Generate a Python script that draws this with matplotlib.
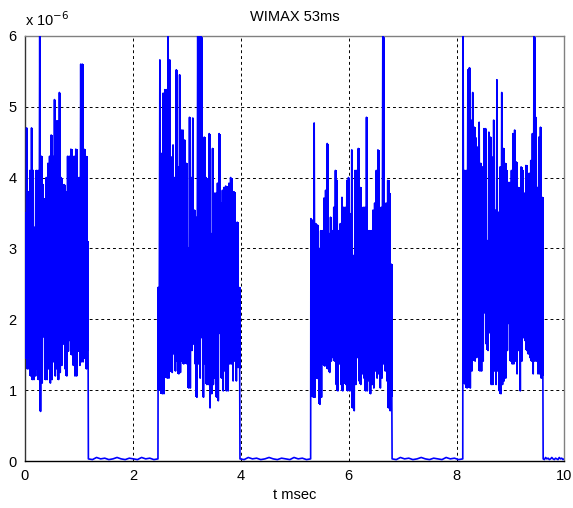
import numpy as np
import matplotlib
matplotlib.use("Agg")
import matplotlib.pyplot as plt

plt.rcParams['font.family'] = ['Liberation Sans', 'DejaVu Sans']
plt.rcParams['path.simplify'] = False

# burst edges (msec)
burst_start = [0.0, 2.47, 5.30, 8.12]
burst_end = [1.17, 3.98, 6.80, 9.60]

# envelope peaks / troughs, in units of 1e-6
b1_high = [3.5, 4.7, 3.8, 4.1, 4.7, 4.1, 3.3, 4.1, 4.1, 6.2, 4.3, 3.9, 3.7, 4.0, 4.2,
           4.3, 4.6, 4.3, 5.1, 4.8, 4.8, 5.2, 4.0, 3.9, 3.9, 3.8, 4.3, 4.3, 4.4, 3.9,
           4.3, 4.4, 4.0, 4.0, 5.6, 5.6, 4.4, 4.3, 3.1]
b1_low = [1.45, 1.3, 1.3, 1.2, 1.15, 1.15, 1.2, 1.3, 1.15, 0.7, 1.1, 1.75, 1.15, 1.15, 1.3,
          1.1, 1.15, 1.4, 1.2, 1.3, 1.15, 1.25, 1.35, 1.65, 1.3, 1.2, 1.55, 1.7, 1.5, 1.35,
          1.2, 1.2, 1.55, 1.35, 1.4, 1.4, 1.45, 1.3, 1.55]

b2_high = [2.45, 5.66, 4.34, 5.19, 5.24, 5.24, 6.2, 5.66, 4.29, 4.46, 4.0, 5.52, 4.15, 5.45,
           4.67, 4.67, 4.53, 4.2, 3.01, 4.85, 4.0, 4.84, 3.54, 3.44, 6.2, 6.2, 6.2, 3.92,
           4.57, 4.0, 3.96, 4.62, 3.21, 4.41, 3.78, 3.78, 3.92, 4.62, 3.64, 3.82, 3.86,
           3.88, 3.59, 3.92, 4.0, 3.64, 3.8, 3.21, 3.37, 2.45]
b2_low = [1.0, 0.99, 0.95, 0.95, 1.80, 1.17, 1.17, 1.39, 1.25, 1.51, 1.27, 1.41, 1.23, 1.25,
          1.41, 1.37, 1.60, 1.37, 1.03, 1.03, 1.56, 1.65, 1.37, 0.90, 1.37, 1.17, 1.74, 0.90,
          1.37, 1.08, 1.08, 0.75, 0.95, 1.08, 1.17, 0.90, 0.85, 1.80, 1.17, 0.99, 1.27,
          0.99, 0.99, 1.37, 1.37, 1.13, 1.41, 1.13, 1.32, 1.3]

b3_high = [3.42, 3.40, 4.77, 3.35, 3.33, 3.0, 3.25, 3.25, 3.71, 3.82, 4.48, 3.21, 3.44, 3.25,
           3.58, 4.1, 3.96, 3.25, 3.35, 3.72, 3.58, 3.58, 3.96, 4.0, 3.49, 4.39, 2.9, 4.1,
           4.1, 4.41, 3.86, 3.25, 3.58, 3.58, 4.85, 3.25, 3.25, 3.25, 3.54, 3.64, 4.1,
           4.39, 2.88, 3.58, 6.2, 3.44, 3.64, 3.96, 3.78, 2.78]
b3_low = [0.92, 0.90, 0.90, 1.17, 1.16, 0.80, 0.90, 1.37, 1.34, 1.37, 1.30, 1.25, 1.41, 1.46,
          1.41, 1.08, 0.99, 1.37, 1.08, 0.99, 1.20, 1.08, 0.99, 1.13, 0.99, 0.75, 0.71, 1.08,
          1.46, 1.13, 1.08, 1.23, 1.17, 0.99, 0.99, 1.13, 0.95, 1.08, 1.03, 1.27, 1.17,
          1.23, 1.03, 1.17, 1.37, 1.27, 1.13, 0.75, 0.71, 0.9]

b4_high = [6.2, 4.1, 4.1, 5.52, 5.55, 4.81, 5.2, 4.71, 4.56, 4.43, 4.78, 4.2, 4.15, 4.69,
           4.69, 3.11, 4.64, 4.57, 4.29, 4.81, 3.54, 5.38, 3.51, 4.15, 5.2, 4.41, 4.2, 4.1,
           3.93, 3.93, 4.1, 4.62, 4.67, 4.22, 3.86, 3.58, 4.15, 4.1, 3.78, 4.17, 3.78,
           4.06, 4.24, 4.62, 6.2, 4.85, 3.86, 4.57, 4.71, 3.72]
b4_low = [1.1, 1.08, 1.03, 1.23, 1.03, 1.27, 1.44, 1.41, 1.46, 1.51, 1.27, 1.27, 1.41, 2.09,
          1.65, 1.56, 1.81, 1.08, 1.08, 1.27, 1.08, 1.27, 0.99, 0.95, 1.08, 1.13, 1.17, 1.56,
          1.94, 1.41, 1.37, 1.37, 1.41, 1.23, 1.56, 0.99, 1.41, 1.74, 1.70, 1.56, 1.51,
          1.46, 1.41, 1.23, 1.41, 1.41, 1.23, 1.23, 1.17, 1.2]

# idle level between bursts
gap_level = [0.03, 0.02, 0.05, 0.03, 0.04, 0.02, 0.03, 0.05, 0.03, 0.02, 0.04, 0.03,
             0.02, 0.05, 0.03, 0.04, 0.02, 0.03]

highs = [b1_high, b2_high, b3_high, b4_high]
lows = [b1_low, b2_low, b3_low, b4_low]

BLUE = '#0000ff'

fig = plt.figure(figsize=(5.73, 5.08), dpi=100)
ax = fig.add_axes([0.0436, 0.0925, 0.9415, 0.837])

t_all = []
v_all = []
for k in range(4):
    hi, lo = np.array(highs[k]), np.array(lows[k])
    # solid body of the burst: one bar per trough/peak pair, slightly overlapping
    tb = np.linspace(burst_start[k], burst_end[k], len(hi))
    dt = tb[1] - tb[0]
    ax.bar(tb, hi - lo, bottom=lo, width=dt * 1.35, color=BLUE, linewidth=0, zorder=2)
    vals = []
    for h, l in zip(hi, lo):
        vals += [h, l]
    t_all += list(np.linspace(burst_start[k], burst_end[k], len(vals)))
    v_all += vals
    # idle stretch up to the next burst (or the end of the record)
    g_end = burst_start[k + 1] if k < 3 else 10.0
    t_all += list(np.linspace(burst_end[k] + 0.005, g_end - 0.005, len(gap_level)))
    v_all += gap_level

ax.plot(np.array(t_all), np.array(v_all), color=BLUE, linewidth=1.2, zorder=3)

ax.set_xlim(0, 10)
ax.set_ylim(0, 6)
ax.set_xticks([0, 2, 4, 6, 8, 10])
ax.set_yticks([0, 1, 2, 3, 4, 5, 6])
ax.tick_params(length=0, labelsize=10.5, pad=6)
ax.grid(True, color='black', linestyle=(0, (3, 3)), linewidth=0.7, zorder=1)
ax.set_axisbelow(True)
for s in ax.spines.values():
    s.set_color('#808080')
    s.set_linewidth(1.0)
ax.spines['bottom'].set_color('black')
ax.spines['left'].set_color('#333333')

ax.set_title('WIMAX 53ms', fontsize=10.5, pad=11)
ax.set_xlabel('t msec', fontsize=10.5, labelpad=3)
ax.text(0.0, 1.015, r'x 10$^{-6}$', transform=ax.transAxes, fontsize=10.5,
        ha='left', va='bottom')

fig.savefig('out.png', dpi=100)
